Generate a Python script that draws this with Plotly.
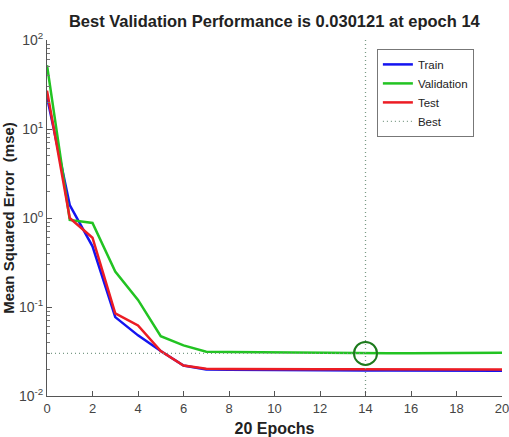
import plotly.graph_objects as go

epochs = list(range(21))
train = [23, 1.4, 0.48, 0.077, 0.048, 0.032, 0.022, 0.0198, 0.0197, 0.0196, 0.0196,
         0.0195, 0.0195, 0.0195, 0.0194, 0.0194, 0.0194, 0.0193, 0.0193, 0.0193, 0.0192]
validation = [52, 0.95, 0.88, 0.25, 0.12, 0.047, 0.037, 0.0315, 0.0312, 0.031, 0.0308,
              0.0306, 0.0304, 0.0302, 0.030121, 0.0302, 0.0303, 0.0304, 0.0305, 0.0306, 0.0307]
test = [27, 1.0, 0.6, 0.085, 0.062, 0.032, 0.022, 0.0202, 0.0201, 0.0200, 0.0200,
        0.0200, 0.0200, 0.0200, 0.0200, 0.0200, 0.0200, 0.0200, 0.0200, 0.0200, 0.0199]
best_epoch = 14
best_perf = 0.030121
y_min, y_max = 0.01, 100
x_ticks = list(range(0, 21, 2))
y_ticks = [0.01, 0.1, 1, 10, 100]
y_tick_text = ["10<sup>-2</sup>", "10<sup>-1</sup>", "10<sup>0</sup>", "10<sup>1</sup>", "10<sup>2</sup>"]
y_minor = [m * d for d in [0.01, 0.1, 1, 10] for m in range(2, 10)]

fig = go.Figure()
fig.add_trace(go.Scatter(x=epochs, y=train, mode="lines", name="Train",
                         line=dict(color="#1414f0", width=2.5)))
fig.add_trace(go.Scatter(x=epochs, y=validation, mode="lines", name="Validation",
                         line=dict(color="#22c322", width=2.5)))
fig.add_trace(go.Scatter(x=epochs, y=test, mode="lines", name="Test",
                         line=dict(color="#ec1c24", width=2.5)))
fig.add_trace(go.Scatter(x=[best_epoch, best_epoch, None, 0, best_epoch],
                         y=[y_max, y_min, None, best_perf, best_perf],
                         mode="lines", name="Best",
                         line=dict(color="#7a9a86", width=1.3, dash="1px,3px")))
fig.add_trace(go.Scatter(x=[best_epoch], y=[best_perf], mode="markers", showlegend=False,
                         marker=dict(symbol="circle-open", size=23, color="#1c7a1c",
                                     line=dict(width=2, color="#1c7a1c"))))

fig.update_layout(
    width=509, height=437,
    margin=dict(l=47, r=7, t=40, b=41, autoexpand=False),
    paper_bgcolor="white", plot_bgcolor="white",
    font=dict(family="Liberation Sans, Arial, sans-serif", color="#444"),
    title=dict(text="<b>Best Validation Performance is 0.030121 at epoch 14</b>",
               x=0.539, xanchor="center", y=0.952, yanchor="middle",
               font=dict(size=16.5, color="#222")),
    showlegend=True,
    legend=dict(x=0.725, y=0.975, xanchor="left", yanchor="top",
                bgcolor="white", bordercolor="#777", borderwidth=1,
                font=dict(size=11.5, color="#222"), tracegroupgap=0,
                itemwidth=30),
)
fig.update_xaxes(range=[0, 20], tickvals=x_ticks, ticks="inside", ticklen=5,
                 tickcolor="#555", showline=True, linecolor="#555", linewidth=1,
                 showgrid=False, zeroline=False, tickfont=dict(size=13, color="#444"),
                 ticklabeloverflow="allow", automargin=False,
                 title=dict(text="<b>20 Epochs</b>", font=dict(size=16, color="#222"), standoff=8))
fig.update_yaxes(type="log", range=[-2, 2], tickvals=y_ticks, ticktext=y_tick_text,
                 ticks="inside", ticklen=5, tickcolor="#555", showline=True,
                 linecolor="#555", linewidth=1, showgrid=False, zeroline=False,
                 minor=dict(tickvals=y_minor, ticks="inside", ticklen=3, tickcolor="#777", showgrid=False),
                 tickfont=dict(size=14, color="#444"), automargin=False,
                 title=dict(text="<b>Mean Squared Error  (mse)</b>", font=dict(size=15, color="#222"), standoff=6))

fig.write_html("out.html")
